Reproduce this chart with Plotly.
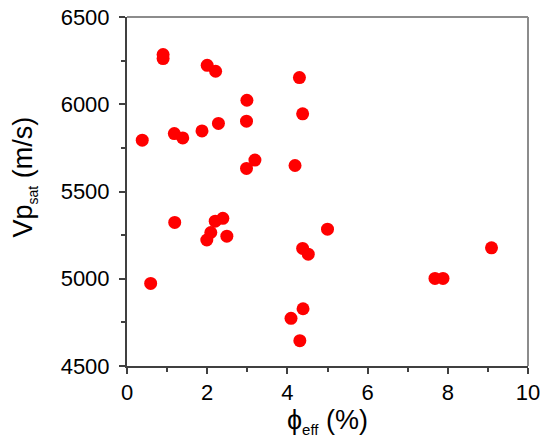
import plotly.graph_objects as go

# porosity (%) and saturated P-wave velocity (m/s)
phi_eff = [0.9, 0.9, 2.0, 2.21, 2.99, 0.38, 1.18, 1.39, 1.87, 2.28, 2.98,
           2.98, 3.19, 4.30, 4.38, 4.19, 1.19, 2.20, 2.39, 2.09, 1.99, 2.49,
           0.59, 5.0, 4.38, 4.52, 9.09, 7.68, 7.88, 4.39, 4.09, 4.31]
vp_sat = [6285, 6262, 6223, 6189, 6023, 5794, 5832, 5807, 5847, 5890, 5903,
          5632, 5680, 6153, 5945, 5649, 5323, 5330, 5346, 5265, 5222, 5244,
          4973, 5284, 5174, 5141, 5177, 5002, 5002, 4828, 4773, 4645]

x_ticks = [0, 2, 4, 6, 8, 10]
y_ticks = [4500, 5000, 5500, 6000, 6500]

font = "Liberation Sans, Arial, sans-serif"

fig = go.Figure()
fig.add_trace(go.Scatter(x=phi_eff, y=vp_sat, mode='markers',
                         marker=dict(color='#ff0000', size=13, line=dict(width=0)),
                         showlegend=False))

axis_common = dict(showgrid=False, zeroline=False, showline=True,
                   linecolor='#404040', linewidth=2, automargin=False,
                   ticks='outside', ticklen=6, tickwidth=1.5, tickcolor='#404040',
                   tickfont=dict(family=font, size=22, color='black'))

fig.update_layout(
    width=550, height=445,
    margin=dict(l=127, r=22, t=17, b=79),
    plot_bgcolor='white', paper_bgcolor='white',
    xaxis=dict(range=[0, 10], tickvals=x_ticks, ticklabelstandoff=0,
               minor=dict(dtick=1, ticks='outside', ticklen=4, tickcolor='#404040', tickwidth=1.5),
               title=dict(text="ϕ<sub><span style='font-size:15px'>eff</span></sub> (%)",
                          font=dict(family=font, size=27, color='black'), standoff=0),
               **axis_common),
    yaxis=dict(range=[4500, 6500], tickvals=y_ticks, ticklabelstandoff=5,
               minor=dict(dtick=250, ticks='outside', ticklen=4, tickcolor='#404040', tickwidth=1.5),
               **axis_common),
)

# y title sits a bit above the plot centre in the original
fig.add_annotation(text="Vp<sub><span style='font-size:14px'>sat</span></sub> (m/s)",
                   xref='paper', yref='paper', x=0, y=0.54, xshift=-102,
                   xanchor='center', yanchor='middle', textangle=-90, showarrow=False,
                   font=dict(family=font, size=27, color='black'))

# lighter frame on top and right
fig.add_shape(type='line', xref='paper', yref='paper', x0=0, x1=1, y0=1, y1=1,
              line=dict(color='#8c8c8c', width=2))
fig.add_shape(type='line', xref='paper', yref='paper', x0=1, x1=1, y0=0, y1=1,
              line=dict(color='#8c8c8c', width=2))

fig.write_html("out.html", config={'displayModeBar': False},
               post_script="document.body.style.margin='0';")
